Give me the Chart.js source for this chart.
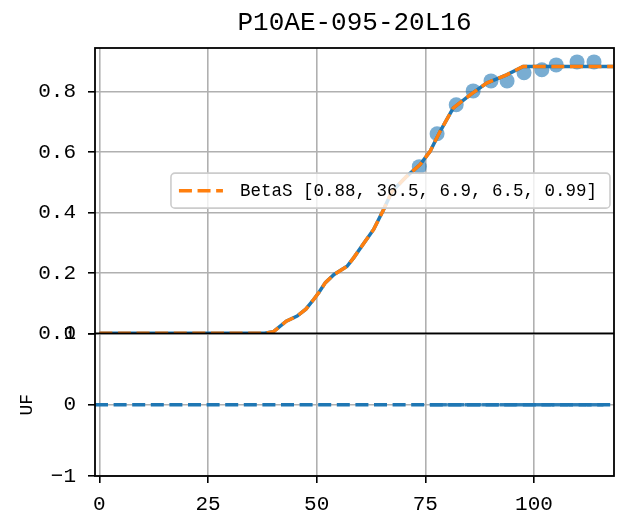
<!DOCTYPE html>
<html><head><meta charset="utf-8">
<script src="https://cdn.jsdelivr.net/npm/chart.js@4.4.1/dist/chart.umd.min.js"></script>
<style>html,body{margin:0;padding:0;background:#fff}canvas{display:block}</style>
</head><body>
<canvas id="c" width="628" height="519"></canvas>
<script>
const chartTitle = 'P10AE-095-20L16';
const fitLabel = 'BetaS [0.88, 36.5, 6.9, 6.5, 0.99]';
const residualLabel = 'UF';

// fitted curve (blue solid + orange dashed)
const fitX = [0, 38, 40, 43, 45.5, 47.5, 49.3, 50.5, 52, 54, 57, 58.5, 60.4, 63.1, 65.4, 67.3, 70.7, 73.8, 76.1, 78.4, 81.4, 85.3, 89.1, 93.7, 97.5, 118.2];
const fitY = [0, 0, 0.005, 0.04, 0.057, 0.08, 0.112, 0.135, 0.168, 0.195, 0.222, 0.25, 0.289, 0.344, 0.41, 0.47, 0.52, 0.559, 0.603, 0.669, 0.746, 0.79, 0.829, 0.856, 0.884, 0.884];

// observed points
const obsX = [73.6, 77.7, 82.1, 86.0, 90.1, 93.8, 97.7, 101.8, 105.1, 109.9, 113.8];
const obsY = [0.552, 0.661, 0.757, 0.803, 0.836, 0.836, 0.863, 0.873, 0.889, 0.899, 0.899];

// residual panel
const resX = [78, 82, 86, 90, 94, 98, 102, 106, 110, 114];
const resY = [0, 0, 0, 0, 0, 0, 0, 0, 0, 0];
const zeroLineY = 0;

// axes
const xMin = -1, xMax = 118.4;
const xTicks = [0, 25, 50, 75, 100];
const yTopMin = 0, yTopMax = 0.945;
const yTopTicks = [0, 0.2, 0.4, 0.6, 0.8];
const yResMin = -1, yResMax = 1;
const yResTicks = [-1, 0, 1];

const FONT = '"Liberation Mono", "DejaVu Sans Mono", monospace';
const BLUE = '#1f77b4', ORANGE = '#ff7f0e';
const pts = (xs, ys) => xs.map((x, i) => ({x, y: ys[i]}));

const framePlugin = {
  id: 'frameLegend',
  afterDatasetsDraw(chart) {
    const ctx = chart.ctx, a = chart.chartArea, yT = chart.scales.yTop;
    ctx.save();
    ctx.strokeStyle = '#000'; ctx.lineWidth = 1.8; ctx.setLineDash([]);
    ctx.strokeRect(a.left, a.top, a.right - a.left, a.bottom - a.top);
    ctx.beginPath(); ctx.moveTo(a.left, yT.bottom); ctx.lineTo(a.right, yT.bottom); ctx.stroke();
    // legend
    const ds = chart.data.datasets[0];
    ctx.font = '17.5px ' + FONT;
    const tw = ctx.measureText(ds.label).width;
    const h = 35, w = tw + 82;
    const right = a.right - 4, left = right - w;
    const cy = (yT.top + yT.bottom) / 2, top = cy - h / 2;
    ctx.beginPath();
    ctx.roundRect(left, top, w, h, 4);
    ctx.fillStyle = 'rgba(255,255,255,0.8)'; ctx.fill();
    ctx.strokeStyle = '#cccccc'; ctx.lineWidth = 1.6; ctx.stroke();
    ctx.beginPath();
    ctx.strokeStyle = ds.borderColor; ctx.lineWidth = ds.borderWidth; ctx.setLineDash(ds.borderDash);
    ctx.moveTo(left + 8, cy); ctx.lineTo(left + 52, cy); ctx.stroke();
    ctx.setLineDash([]);
    ctx.fillStyle = '#000'; ctx.textBaseline = 'middle'; ctx.textAlign = 'left';
    ctx.fillText(ds.label, left + 69, cy + 1);
    ctx.restore();
  }
};

const gridOpts = {color: '#b0b0b0', lineWidth: 1.6, tickLength: 7, tickColor: '#000', tickWidth: 1.6};
const tickFont = {family: FONT, size: 21};

new Chart(document.getElementById('c'), {
  type: 'scatter',
  data: {
    datasets: [
      {label: fitLabel, data: pts(fitX, fitY), yAxisID: 'yTop', showLine: true, pointRadius: 0,
       borderColor: ORANGE, borderWidth: 3.5, borderDash: [13, 5.6], order: 0},
      {label: 'line', data: pts(fitX, fitY), yAxisID: 'yTop', showLine: true, pointRadius: 0,
       borderColor: BLUE, borderWidth: 3.5, order: 1},
      {label: 'obs', data: pts(obsX, obsY), yAxisID: 'yTop', pointRadius: 7.5, borderWidth: 0,
       backgroundColor: 'rgba(31,119,180,0.6)', order: 2},
      {label: 'res', data: pts(resX, resY), yAxisID: 'yRes', pointStyle: 'line', pointRadius: 8.5,
       borderWidth: 3.5, borderColor: 'rgba(31,119,180,0.9)', order: 3},
      {label: 'zero', data: pts([xMin, xMax], [zeroLineY, zeroLineY]), yAxisID: 'yRes', showLine: true, pointRadius: 0,
       borderColor: BLUE, borderWidth: 3.5, borderDash: [13, 5.6], order: 4}
    ]
  },
  options: {
    responsive: false, animation: false, devicePixelRatio: 1,
    layout: {padding: {left: 0, right: 14, top: 0, bottom: 0}},
    plugins: {
      legend: {display: false}, tooltip: {enabled: false},
      title: {display: true, text: chartTitle, fullSize: false, color: '#000',
              font: {family: FONT, size: 26, weight: 'normal', lineHeight: 1.2},
              padding: {top: 8, bottom: 8.8}}
    },
    scales: {
      x: {type: 'linear', position: 'bottom', min: xMin, max: xMax,
          afterBuildTicks: s => { s.ticks = xTicks.map(v => ({value: v})); },
          afterFit: s => { s.height = 43; },
          grid: gridOpts, border: {display: false},
          ticks: {font: tickFont, color: '#000', padding: 9, maxRotation: 0, autoSkip: false, callback: v => String(v)}},
      yTop: {type: 'linear', position: 'left', stack: 'panels', stackWeight: 2, weight: 1,
          min: yTopMin, max: yTopMax,
          afterBuildTicks: s => { s.ticks = yTopTicks.map(v => ({value: v})); },
          afterFit: s => { s.width = 95; },
          grid: gridOpts, border: {display: false},
          ticks: {font: tickFont, color: '#000', padding: 12, autoSkip: false, callback: v => v.toFixed(1)}},
      yRes: {type: 'linear', position: 'left', stack: 'panels', stackWeight: 1, weight: 0,
          min: yResMin, max: yResMax,
          afterBuildTicks: s => { s.ticks = yResTicks.map(v => ({value: v})); },
          afterFit: s => { s.width = 95; },
          grid: gridOpts, border: {display: false},
          title: {display: true, text: residualLabel, color: '#000', font: {family: FONT, size: 18}, padding: {top: 16, bottom: 0}},
          ticks: {font: tickFont, color: '#000', padding: 12, autoSkip: false,
                  callback: v => v < 0 ? '\u2212' + Math.abs(v) : String(v)}}
    }
  },
  plugins: [framePlugin]
});
</script>
</body></html>
